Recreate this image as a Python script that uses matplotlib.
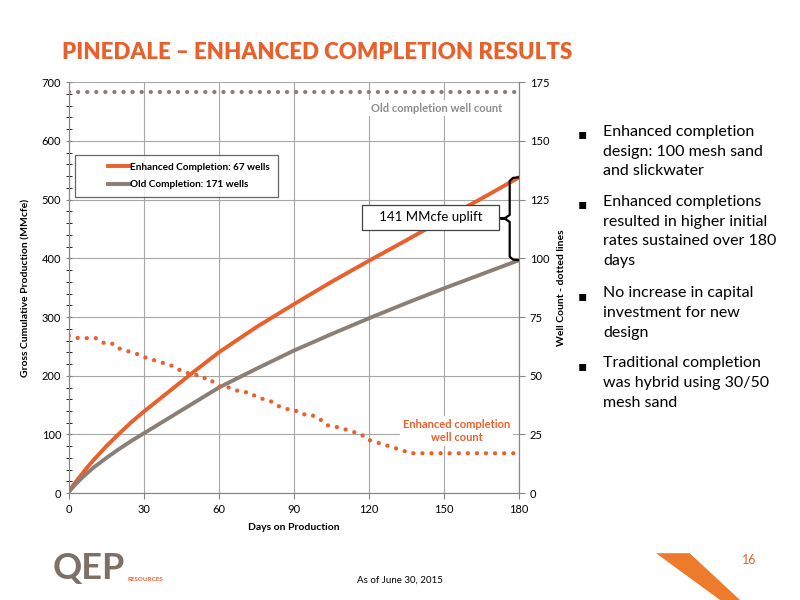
import numpy as np
import matplotlib.pyplot as plt
from matplotlib.patches import Polygon
from matplotlib.legend_handler import HandlerLine2D

plt.rcParams['font.family'] = ['Lato', 'DejaVu Sans']

ORANGE = '#E8602C'
GRAY = '#8A7F77'

# cumulative production (MMcfe) vs days on production
days = [0, 1, 2, 4, 7, 10, 15, 20, 25, 30, 40, 50, 60, 75, 90, 105, 120, 135, 150, 165, 180]
enhanced = [3, 9, 15, 26, 42, 57, 80, 101, 121, 139, 173, 207, 240, 283, 322, 360, 396, 431, 467, 502, 538]
old = [2, 7, 12, 21, 33, 44, 60, 75, 89, 102, 128, 154, 180, 212, 243, 271, 298, 324, 349, 373, 397]

# well counts (right axis)
wc_days = [0, 4, 7, 11, 14, 17, 19, 22, 25, 28, 30, 33, 36, 39, 42, 45, 48, 50, 53, 56,
           58, 61, 64, 69, 72, 75, 78, 81, 84, 87, 89, 92, 95, 98, 101, 103, 105, 108,
           111, 114, 117, 119, 122, 125, 128, 131, 134, 136, 150, 165, 180]
wc_enhanced = [67, 66, 66, 66, 64, 64, 62, 61, 60, 59, 58, 57, 56, 55, 54, 52, 51, 51, 49, 49,
               47, 45, 45, 43, 43, 41, 40, 39, 37, 36, 35, 35, 33, 33, 31, 29, 28.5, 28,
               27, 26, 25, 23, 22, 21, 20, 19, 18, 17, 17, 17, 17]
wc_old_days = [0, 180]
wc_old = [171, 171]

bullets = [
    "Enhanced completion\ndesign: 100 mesh sand\nand slickwater",
    "Enhanced completions\nresulted in higher initial\nrates sustained over 180\ndays",
    "No increase in capital\ninvestment for new\ndesign",
    "Traditional completion\nwas hybrid using 30/50\nmesh sand",
]


class ShortLine(HandlerLine2D):
    # legend line drawn only in the right part of the handle box
    def create_artists(self, legend, orig, xdescent, ydescent, width, height, fontsize, trans):
        return super().create_artists(legend, orig, xdescent - 0.53 * width, ydescent,
                                      0.47 * width, height, fontsize, trans)


fig = plt.figure(figsize=(8, 6), dpi=100)
ax = fig.add_axes([0.086, 0.178, 0.563, 0.685])
ax2 = ax.twinx()

l1, = ax.plot(days, enhanced, color=ORANGE, lw=2.8, label='Enhanced Completion: 67 wells', zorder=3)
l2, = ax.plot(days, old, color=GRAY, lw=2.8, label='Old Completion: 171 wells', zorder=3)
ax.set_xlim(0, 180)
ax.set_ylim(0, 700)
ax.set_xticks(range(0, 181, 30))
ax.set_yticks(range(0, 701, 100))
ax.set_yticks(range(0, 701, 20), minor=True)
ax.grid(True, color='#A6A6A6', lw=0.8)
ax.set_axisbelow(True)
ax.tick_params(axis='both', labelsize=8, color='#868686', length=4)
ax.tick_params(axis='y', which='both', direction='inout')
ax.tick_params(axis='y', which='minor', length=4)
ax.set_xlabel('Days on Production', fontsize=7.5, fontweight='bold', labelpad=6)
ax.set_ylabel('Gross Cumulative Production (MMcfe)', fontsize=7.5, fontweight='bold', labelpad=8)

dot = (0, (0.01, 2.1))
ax2.plot(wc_days, wc_enhanced, color=ORANGE, lw=3.1, ls=dot, dash_capstyle='round')
ax2.plot(wc_old_days, wc_old, color=GRAY, lw=3.1, ls=dot, dash_capstyle='round')
ax2.set_ylim(0, 175)
ax2.set_yticks(range(0, 176, 25))
ax2.tick_params(axis='y', labelsize=8, color='#868686', length=4)
ax2.set_ylabel('Well Count - dotted lines', fontsize=7.5, fontweight='bold', labelpad=6)

for a in (ax, ax2):
    for s in a.spines.values():
        s.set_color('#868686')
    a.spines['top'].set_visible(False)

ax2.text(147, 164, 'Old completion well count', color='#8C8C8C', fontsize=8,
         fontweight='bold', ha='center', va='center',
         bbox=dict(fc='white', ec='none', pad=2))
ax2.text(155, 26.5, 'Enhanced completion\nwell count', color=ORANGE, fontsize=8,
         fontweight='bold', ha='center', va='center', linespacing=1.2,
         bbox=dict(fc='white', ec='none', pad=2))

leg = ax.legend(handles=[l1, l2], loc='upper left', bbox_to_anchor=(0.013, 0.823), frameon=True,
                fancybox=False, edgecolor='#404040', handlelength=4.7, handletextpad=0.05,
                borderpad=0.8, labelspacing=0.85, borderaxespad=0,
                handler_map={l1: ShortLine(), l2: ShortLine()},
                prop={'weight': 'bold', 'size': 7.2})
leg.get_frame().set_linewidth(0.9)

# uplift annotation and brace
top, bot = enhanced[-1], old[-1]
mid = 468
bx = [179.7, 177.5, 176.2, 176.2, 174.5, 172.5, 174.5, 176.2, 176.2, 177.5, 179.7]
by = [top, top - 1, top - 6, mid + 6, mid + 1, mid, mid - 1, mid - 6, bot + 6, bot + 1, bot]
ax.plot(bx, by, color='black', lw=1.6, clip_on=False, zorder=5)
ax.text(144.5, 470, f'   {top - bot} MMcfe uplift   ', fontsize=9.5, ha='center', va='center',
        zorder=6, bbox=dict(fc='white', ec='#404040', lw=0.9, boxstyle='square,pad=0.5'))

fig.text(0.078, 0.912, 'PINEDALE – ENHANCED COMPLETION RESULTS', color=ORANGE,
         fontsize=16, fontweight='heavy', va='center')

y = 0.792
for b in bullets:
    fig.text(0.722, y - 0.004, '▪', fontsize=10, va='top', family=['DejaVu Sans'])
    fig.text(0.754, y, b, fontsize=11.5, va='top', linespacing=1.52)
    y -= 0.035 * (b.count('\n') + 1) + 0.012

fig.text(0.5, 0.033, 'As of June 30, 2015', fontsize=7, ha='center', va='center')
fig.text(0.927, 0.067, '16', fontsize=9, color=ORANGE, ha='left', va='center')

# logo
fig.text(0.066, 0.052, 'QEP', fontsize=26, fontweight='bold', color='#7D7167', va='center')
fig.text(0.16, 0.034, 'RESOURCES', fontsize=4.5, fontweight='bold', color=ORANGE, va='center')
fig.patches.append(Polygon([[0.82, 0.078], [0.862, 0.078], [0.925, 0.0], [0.9, 0.0]],
                           closed=True, transform=fig.transFigure, fc='#EE7A2C', ec='none'))

fig.savefig('out.png', dpi=100)
